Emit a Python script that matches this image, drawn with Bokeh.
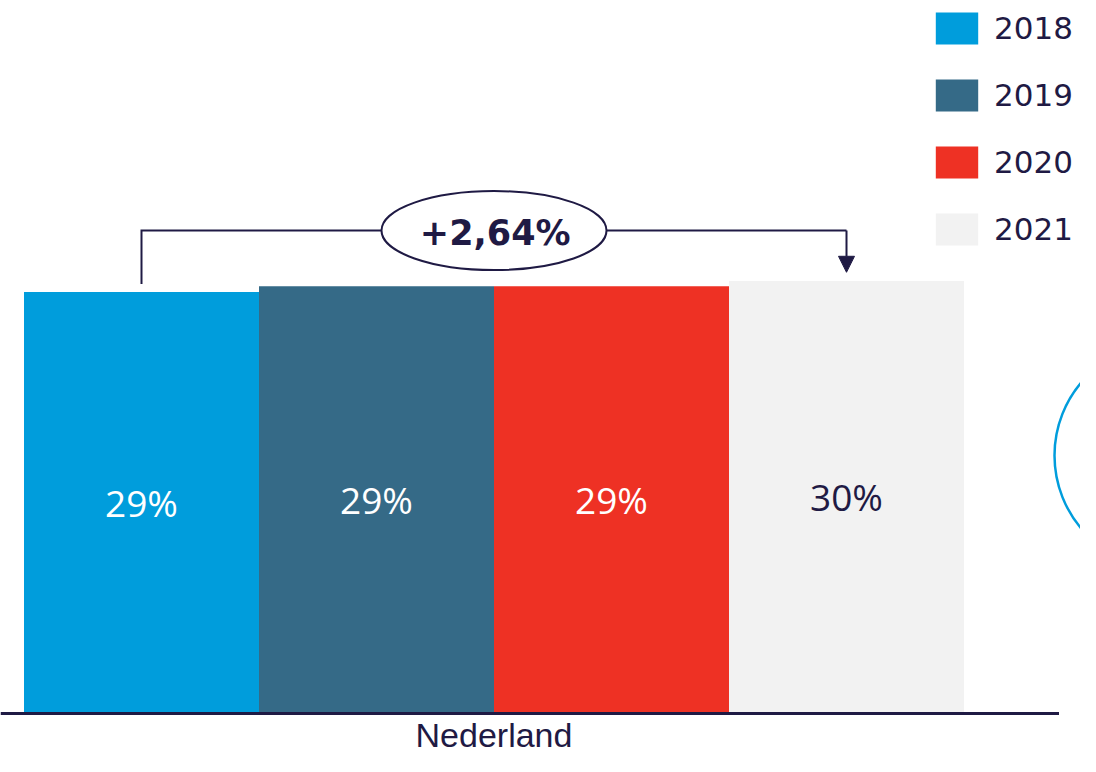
from bokeh.plotting import figure
from bokeh.models import Range1d, Legend, LegendItem, Arrow, NormalHead, ColumnDataSource
from bokeh.core.properties import value
from bokeh.embed import file_html
from bokeh.resources import INLINE

# ---- data -------------------------------------------------------------
years = ["2018", "2019", "2020", "2021"]
shares = [29.2, 29.6, 29.6, 29.97]
share_labels = ["29%", "29%", "29%", "30%"]
category = "Nederland"
change_label = "+2,64%"

# ---- style ------------------------------------------------------------
colors = ["#009ddc", "#356a87", "#ee3124", "#f2f2f2"]
label_colors = ["#ffffff", "#ffffff", "#ffffff", "#1f1a44"]
NAVY = "#1f1a44"
BLUE = "#009ddc"

W, H = 1080, 756
PX_X = 235.0   # pixels per bar slot
PX_Y = 14.4    # pixels per percentage point
x_start = -141 / PX_X
y_start = -(H - 712) / PX_Y

p = figure(width=W, height=H, output_backend="svg", toolbar_location=None,
           x_range=Range1d(x_start, x_start + W / PX_X),
           y_range=Range1d(y_start, y_start + H / PX_Y),
           min_border=0, x_axis_location=None, y_axis_location=None)
p.grid.visible = False
p.outline_line_color = None
p.background_fill_color = "white"
p.border_fill_color = "white"

n = len(shares)
xs = list(range(n))
src = ColumnDataSource(dict(x=xs, top=shares, color=colors, label=share_labels,
                            label_color=label_colors, mid=[v / 2 for v in shares]))

bars = p.vbar(x="x", top="top", bottom=0, width=1.0, fill_color="color",
              line_color=None, source=src)

# value labels inside bars
p.text(x="x", y="mid", text="label", text_color="label_color", source=src,
       text_font=value("Open Sans"), text_font_size="37px",
       text_align="center", text_baseline="middle")

# baseline
p.segment(x0=[x_start], y0=[-1 / PX_Y], x1=[n - 0.5 + 95 / PX_X], y1=[-1 / PX_Y],
          line_color=NAVY, line_width=3)

# category label
p.text(x=[(n - 1) / 2], y=[-22.5 / PX_Y], text=[category],
       text_font=value("Liberation Sans"), text_font_size="34px",
       text_align="center", text_baseline="middle", text_color=NAVY)

# change bracket
top_y = max(shares) + 3.5
p.line([0, 0, n - 1], [shares[0] + 0.55, top_y, top_y], line_color=NAVY,
       line_width=2, line_join="miter")
p.add_layout(Arrow(end=NormalHead(size=16, fill_color=NAVY, line_color=NAVY, line_width=1),
                   x_start=n - 1, y_start=top_y, x_end=n - 1, y_end=shares[-1] + 0.6,
                   line_color=NAVY, line_width=2))
p.ellipse(x=[(n - 1) / 2], y=[top_y], width=225 / PX_X, height=79 / PX_Y,
          fill_color="white", line_color=NAVY, line_width=2)
p.text(x=[(n - 1) / 2 + 0.005], y=[top_y - 0.2], text=[change_label],
       text_font=value("DejaVu Sans"), text_font_style="bold", text_font_size="35px",
       text_align="center", text_baseline="middle", text_color=NAVY)

# decorative circle at right edge
p.circle(x=[(1167 - 141) / PX_X], y=[(712 - 455) / PX_Y], radius=113 / PX_X,
         fill_color=None, line_color=BLUE, line_width=2.5)

# legend
legend = Legend(items=[LegendItem(label=years[i], renderers=[bars], index=i) for i in range(n)],
                location=(930, H - 8 - 241), orientation="vertical",
                glyph_width=53, glyph_height=40, spacing=27, label_standoff=11,
                padding=0, margin=0, border_line_color=None, background_fill_alpha=0,
                label_text_font="DejaVu Sans", label_text_font_size="31px",
                label_text_color=NAVY, label_height=40)
p.add_layout(legend)

open("out.html", "w").write(file_html(p, INLINE))
